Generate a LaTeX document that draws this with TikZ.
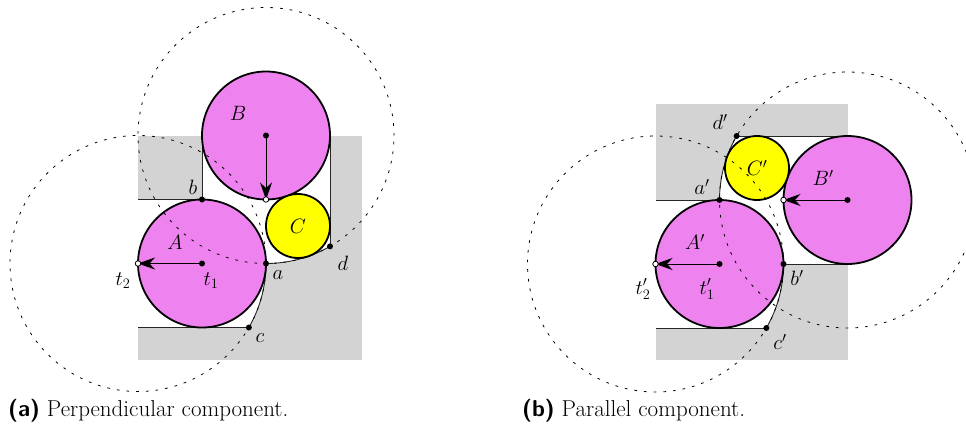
\documentclass[tikz,border=0pt]{standalone}
\usepackage{fontspec}
\usetikzlibrary{arrows.meta}
\definecolor{discpink}{RGB}{238,130,238}
\definecolor{discyellow}{RGB}{255,255,0}
\definecolor{wallgray}{RGB}{211,211,211}
\begin{document}
\begin{tikzpicture}[x=1pt,y=1pt,
  disc/.style={draw=black,line width=1.8pt},
  wall/.style={draw=black!85,line width=0.9pt},
  guide/.style={draw=black,line width=0.8pt,dash pattern=on 2.7pt off 7pt},
  vec/.style={line width=0.9pt,-{Stealth[length=17pt,width=12pt]}},
  bdot/.style={circle,fill=black,inner sep=0pt,minimum size=6pt},
  wdot/.style={circle,fill=white,draw=black,line width=0.8pt,inner sep=0pt,minimum size=5.5pt},
  lab/.style={font=\fontsize{22}{26}\selectfont,inner sep=0pt},
  captext/.style={font=\fontsize{23}{27}\selectfont,inner sep=0pt,anchor=base west}]
\useasboundingbox (0,0) rectangle (966,-439);
\clip (0,0) rectangle (966,-439);

% ---------------- (a) perpendicular ----------------
\coordinate (t1) at (202,-263.5);
\coordinate (t2) at (138,-263.5);
\coordinate (Bc) at (266,-135.5);
\coordinate (Bt) at (266,-199.5);
\coordinate (Cc) at (298,-226);
\coordinate (a) at (266,-263.5);
\coordinate (b) at (202,-199.5);
\coordinate (c) at (248.85,-327.5);
\coordinate (d) at (330,-246.35);
\coordinate (bl) at (138,-199.5);
\coordinate (cl) at (138,-327.5);
\coordinate (bt) at (202,-135.5);
\coordinate (dt) at (330,-135.5);

\fill[wallgray] (138,-135.5) rectangle (362,-359.5);
\fill[white] (bt) -- (b) -- (bl) -- (cl) -- (c)
  arc[start angle=-30,end angle=0,radius=128]
  arc[start angle=-90,end angle=-60,radius=128] -- (dt) -- cycle;
\draw[wall] (bl) -- (b);
\draw[wall] (bt) -- (b);
\draw[wall] (cl) -- (c);
\draw[wall] (dt) -- (d);
\draw[wall] (c) arc[start angle=-30,end angle=0,radius=128]
  arc[start angle=-90,end angle=-60,radius=128];

\draw[disc,fill=discpink] (t1) circle[radius=64];
\draw[disc,fill=discpink] (Bc) circle[radius=64];
\draw[disc,fill=discyellow] (Cc) circle[radius=32];

\draw[guide] (t2) circle[radius=128];
\draw[guide] (Bc) circle[radius=128];

\draw[vec] (t1) -- (t2);
\draw[vec] (Bc) -- (Bt);

\node[bdot] (pt1) at (t1) {};
\node[bdot] (pB) at (Bc) {};
\node[bdot] (pa) at (a) {};
\node[bdot] (pb) at (b) {};
\node[bdot] (pc) at (c) {};
\node[bdot] (pd) at (d) {};
\node[wdot] (pt2) at (t2) {};
\node[wdot] (pBt) at (Bt) {};

\node[lab] (lB) at (238,-113) {$B$};
\node[lab] (lC) at (298,-226) {$C$};
\node[lab] (lA) at (175,-242) {$A$};
\node[lab] (lt2) at (123,-281) {$t_2$};
\node[lab] (lt1) at (211,-281) {$t_1$};
\node[lab] (la) at (278,-275) {$a$};
\node[lab] (lb) at (193,-187) {$b$};
\node[lab] (lc) at (260,-338) {$c$};
\node[lab] (ld) at (343,-263) {$d$};

% ---------------- (b) parallel ----------------
\coordinate (u1) at (719.5,-264);
\coordinate (u2) at (655.5,-264);
\coordinate (Pc) at (847.5,-200);
\coordinate (Pt) at (783.5,-200);
\coordinate (Qc) at (757,-168);
\coordinate (a2) at (719.5,-200);
\coordinate (b2) at (783.5,-264);
\coordinate (c2) at (766.35,-328);
\coordinate (d2) at (736.65,-136);
\coordinate (dr) at (847.5,-136);
\coordinate (br) at (847.5,-264);
\coordinate (al) at (655.5,-200);
\coordinate (cl2) at (655.5,-328);

\fill[wallgray] (655.5,-104) rectangle (847.5,-360);
\fill[white] (d2) -- (dr) -- (br) -- (b2)
  arc[start angle=0,end angle=-30,radius=128] -- (cl2) -- (al) -- (a2)
  arc[start angle=180,end angle=150,radius=128] -- cycle;
\draw[wall] (d2) -- (dr);
\draw[wall] (al) -- (a2);
\draw[wall] (b2) -- (br);
\draw[wall] (cl2) -- (c2);
\draw[wall] (b2) arc[start angle=0,end angle=-30,radius=128];
\draw[wall] (a2) arc[start angle=180,end angle=150,radius=128];

\draw[disc,fill=discpink] (u1) circle[radius=64];
\draw[disc,fill=discpink] (Pc) circle[radius=64];
\draw[disc,fill=discyellow] (Qc) circle[radius=32];

\draw[guide] (u2) circle[radius=128];
\draw[guide] (Pc) circle[radius=128];

\draw[vec] (u1) -- (u2);
\draw[vec] (Pc) -- (Pt);

\node[bdot] (pu1) at (u1) {};
\node[bdot] (pP) at (Pc) {};
\node[bdot] (pa2) at (a2) {};
\node[bdot] (pb2) at (b2) {};
\node[bdot] (pc2) at (c2) {};
\node[bdot] (pd2) at (d2) {};
\node[wdot] (pu2) at (u2) {};
\node[wdot] (pPt) at (Pt) {};

\node[lab] (ld2) at (720,-122) {$d'$};
\node[lab] (lC2) at (757,-168) {$C'$};
\node[lab] (la2) at (702,-187) {$a'$};
\node[lab] (lB2) at (823,-178) {$B'$};
\node[lab] (lA2) at (695,-242) {$A'$};
\node[lab] (lu2) at (643,-289) {$t'_2$};
\node[lab] (lu1) at (707,-289) {$t'_1$};
\node[lab] (lb2) at (797,-278) {$b'$};
\node[lab] (lc2) at (780,-342) {$c'$};

% captions
\node[captext] (capa) at (8,-416) {{\sffamily\bfseries (a)} Perpendicular component.};
\node[captext] (capb) at (522,-416) {{\sffamily\bfseries (b)} Parallel component.};
\end{tikzpicture}
\end{document}
